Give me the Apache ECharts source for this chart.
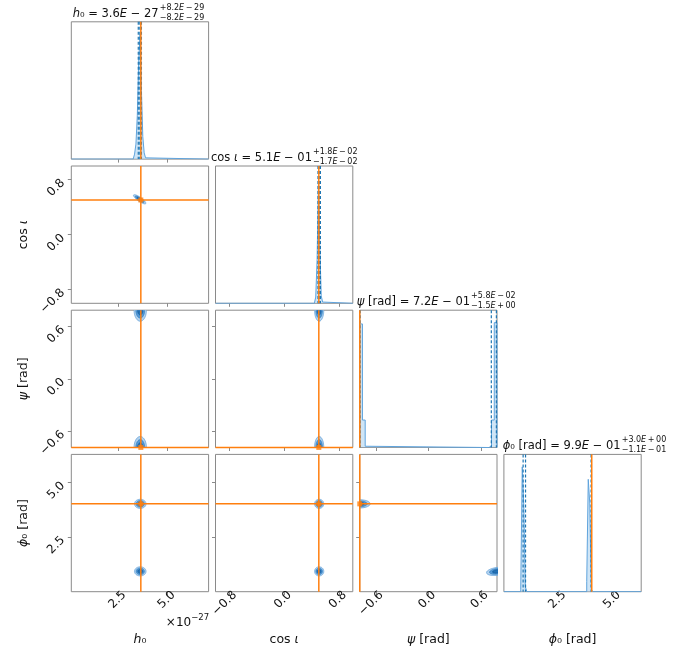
<!DOCTYPE html>
<html><head><meta charset="utf-8">
<script src="https://cdn.jsdelivr.net/npm/echarts@6/dist/echarts.min.js"></script>
<style>html,body{margin:0;padding:0;background:#fff}#c{width:694px;height:652px}</style>
</head><body><div id="c"></div>
<script>
// ---------------- data ----------------
const paramNames = ['h0', 'cosi', 'psi', 'phi0'];
const axisMin = [0.09, -1.0, -0.785, 0.0];
const axisMax = [7.08, 1.0, 0.785, 6.283];
const tickValues = [[2.5, 5.0], [-0.8, 0.0, 0.8], [-0.6, 0.0, 0.6], [2.5, 5.0]];
const truths = [3.63, 0.505, -0.784, 4.02];
const medians = [3.58, 0.51, 0.72, 0.99];
const qLow = [3.50, 0.493, -0.78, 0.88];
const qHigh = [3.66, 0.528, 0.778, 3.99];

// 1D histograms (bin left edge, normalised height)
const h0BinWidth = 0.07;
const h0BinLeft = [3.24, 3.31, 3.38, 3.45, 3.52, 3.59, 3.66, 3.73, 3.80, 3.87];
const h0BinHeight = [0.01, 0.04, 0.12, 0.35, 0.78, 1.0, 0.55, 0.18, 0.05, 0.01];

const cosiBinWidth = 0.02;
const cosiBinLeft = [0.44, 0.46, 0.48, 0.50, 0.52, 0.54, 0.56];
const cosiBinHeight = [0.01, 0.05, 0.35, 1.0, 0.45, 0.06, 0.01];

const psiBinWidth = 0.0314;
const psiBinLeft = [-0.785, -0.7536, -0.7222, 0.6908, 0.7222, 0.7536];
const psiBinHeight = [0.99, 0.22, 0.01, 0.01, 0.22, 1.0];

const phiBinWidth = 0.07;
const phiBinLeft = [0.77, 0.84, 0.91, 0.98, 3.79, 3.86, 3.93, 4.00];
const phiBinHeight = [0.02, 1.0, 0.69, 0.04, 0.08, 0.90, 0.71, 0.02];

// 2D posterior blobs: [centre x, centre y, sigma x, sigma y, correlation]
const blobsCosiH0 = [[3.57, 0.515, 0.15, 0.032, -0.85]];
const blobsPsiH0 = [[3.60, 0.785, 0.15, 0.06, 0.0], [3.60, -0.785, 0.15, 0.06, 0.0]];
const blobsPsiCosi = [[0.51, 0.785, 0.032, 0.06, 0.0], [0.51, -0.785, 0.032, 0.06, 0.0]];
const blobsPhiH0 = [[3.60, 4.02, 0.14, 0.10, 0.0], [3.60, 0.93, 0.14, 0.10, 0.0]];
const blobsPhiCosi = [[0.51, 4.02, 0.032, 0.10, 0.0], [0.51, 0.93, 0.032, 0.10, 0.0]];
const blobsPhiPsi = [[-0.785, 4.02, 0.057, 0.09, 0.0], [0.785, 0.93, 0.057, 0.09, 0.3]];

// ---------------- layout & style ----------------
const FONT = 'DejaVu Sans';
const L0 = 71.3, T0 = 21.8, STEP = 144.2, W = 137.3;
const BORDER = '#8a8a8a';
const TEXT = '#111';
const BLUE = '#1f77b4', ORANGE = '#ff7f0e';
const levels = [2.1, 1.5, 0.9];
const levelFill = ['#b3d2ee', '#5499d6', '#2471b5'];
const levelStroke = ['#5c9ed8', '#2f7fc2', '#1a5f9e'];
const refLineStyles = [
  {stroke: BLUE, lineWidth: 1.2, lineDash: [3, 2]},
  {stroke: ORANGE, lineWidth: 1.5}
];

const hists = [
  {w: h0BinWidth, left: h0BinLeft, h: h0BinHeight},
  {w: cosiBinWidth, left: cosiBinLeft, h: cosiBinHeight},
  {w: psiBinWidth, left: psiBinLeft, h: psiBinHeight},
  {w: phiBinWidth, left: phiBinLeft, h: phiBinHeight}
];
const blobs = {
  '1,0': blobsCosiH0, '2,0': blobsPsiH0, '2,1': blobsPsiCosi,
  '3,0': blobsPhiH0, '3,1': blobsPhiCosi, '3,2': blobsPhiPsi
};

function fmt(v) {
  const s = Math.abs(v) < 1e-9 ? '0.0' : v.toFixed(1);
  return s.replace('-', '\u2212');
}

function stepData(hist, j) {
  const pts = [[axisMin[j], 0]];
  const n = hist.left.length;
  for (let k = 0; k < n; k++) {
    const x0 = hist.left[k], x1 = x0 + hist.w;
    const prevContig = k > 0 && Math.abs(hist.left[k - 1] + hist.w - x0) < 1e-6;
    const nextContig = k < n - 1 && Math.abs(x1 - hist.left[k + 1]) < 1e-6;
    if (!prevContig) pts.push([x0, 0]);
    pts.push([x0, hist.h[k]], [x1, hist.h[k]]);
    if (!nextContig) pts.push([x1, 0]);
  }
  pts.push([axisMax[j], 0]);
  return pts;
}

// reference lines (quantiles / truths): [value, 0=vertical 1=horizontal, style index, other coord]
function refLineSeries(gi, data) {
  return {
    type: 'custom', xAxisIndex: gi, yAxisIndex: gi, clip: false, z: 4, silent: true, data: data,
    renderItem: function (params, api) {
      const cs = params.coordSys;
      const v = api.value(0), horiz = api.value(1) === 1, st = refLineStyles[api.value(2)];
      let shape;
      if (horiz) {
        const y = api.coord([api.value(3), v])[1];
        shape = {x1: cs.x, y1: y, x2: cs.x + cs.width, y2: y};
      } else {
        const x = api.coord([v, api.value(3)])[0];
        shape = {x1: x, y1: cs.y, x2: x, y2: cs.y + cs.height};
      }
      return {type: 'line', shape: shape, style: st};
    }
  };
}

const grids = [], xAxes = [], yAxes = [], series = [];
let g = 0;
for (let i = 0; i < 4; i++) {
  for (let j = 0; j <= i; j++) {
    grids.push({
      left: L0 + STEP * j, top: T0 + STEP * i, width: W, height: W,
      show: true, borderColor: BORDER, borderWidth: 1, backgroundColor: 'transparent',
      containLabel: false, outerBoundsMode: 'none'
    });
    xAxes.push({
      type: 'value', gridIndex: g, min: axisMin[j], max: axisMax[j], position: 'bottom',
      splitLine: {show: false},
      axisLine: {show: false, onZero: false},
      axisTick: {show: true, customValues: tickValues[j], length: 3.5, lineStyle: {color: BORDER, width: 1}},
      axisLabel: {show: i === 3, customValues: tickValues[j], rotate: 45, margin: 7,
        padding: [6, -7.9, 0, 0],
        fontSize: 12, fontFamily: FONT, color: TEXT, formatter: fmt}
    });
    if (i === j) {
      const mx = Math.max.apply(null, hists[j].h) * 1.1;
      yAxes.push({type: 'value', gridIndex: g, min: 0, max: mx, show: false,
        axisLine: {onZero: false}, splitLine: {show: false}});
      series.push({
        type: 'line', xAxisIndex: g, yAxisIndex: g, data: stepData(hists[j], j),
        symbol: 'none', lineStyle: {color: '#5fa3dc', width: 1}, silent: true,
        areaStyle: {color: '#a8cfee', opacity: 0.55}, z: 2
      });
      series.push(refLineSeries(g, [
        [qLow[j], 0, 0, 0], [medians[j], 0, 0, 0], [qHigh[j], 0, 0, 0], [truths[j], 0, 1, 0]
      ]));
    } else {
      yAxes.push({
        type: 'value', gridIndex: g, min: axisMin[i], max: axisMax[i], position: 'left',
        splitLine: {show: false},
        axisLine: {show: false, onZero: false},
        axisTick: {show: true, customValues: tickValues[i], length: 3.5, lineStyle: {color: BORDER, width: 1}},
        axisLabel: {show: j === 0, customValues: tickValues[i], rotate: 45, margin: 7,
          padding: [5, 2, 0, 0],
          fontSize: 12, fontFamily: FONT, color: TEXT, formatter: fmt}
      });
      series.push({
        type: 'custom', xAxisIndex: g, yAxisIndex: g, clip: true, z: 3, silent: true,
        data: blobs[i + ',' + j],
        renderItem: function (params, api) {
          const cx = api.value(0), cy = api.value(1), sx = api.value(2), sy = api.value(3), rho = api.value(4);
          const rr = Math.sqrt(1 - rho * rho);
          const children = [];
          levels.forEach(function (k, li) {
            const pts = [];
            for (let t = 0; t < 60; t++) {
              const a = 2 * Math.PI * t / 60, u = Math.cos(a), v = Math.sin(a);
              pts.push(api.coord([cx + k * sx * u, cy + k * sy * (rho * u + rr * v)]));
            }
            children.push({type: 'polygon', shape: {points: pts},
              style: {fill: levelFill[li], stroke: levelStroke[li], lineWidth: 0.7}});
          });
          return {type: 'group', children: children};
        }
      });
      series.push(refLineSeries(g, [
        [truths[j], 0, 1, truths[i]], [truths[i], 1, 1, truths[j]]
      ]));
      series.push({
        type: 'scatter', xAxisIndex: g, yAxisIndex: g, data: [[truths[j], truths[i]]],
        symbol: 'rect', symbolSize: 5, itemStyle: {color: ORANGE}, z: 5, silent: true
      });
    }
    g++;
  }
}

// ---------------- math-like text ----------------
const mctx = document.createElement('canvas').getContext('2d');
function tw(t, size, it) { mctx.font = (it ? 'italic ' : '') + size + 'px "' + FONT + '"'; return mctx.measureText(t).width; }
function txt(t, x, y, size, it) {
  return {type: 'text', x: x, y: y, silent: true,
    style: {text: t, fontSize: size, fontFamily: FONT, fontStyle: it ? 'italic' : 'normal', fill: TEXT,
      align: 'left', verticalAlign: 'middle', textAlign: 'left', textVerticalAlign: 'middle'}};
}
function run(segs, x, y, size, out) {
  let cx = x;
  segs.forEach(function (s) { out.push(txt(s[0], cx, y, size, s[1])); cx += tw(s[0], size, s[1]); });
  return cx - x;
}
function runWidth(segs, size) { return segs.reduce((a, s) => a + tw(s[0], size, s[1]), 0); }

const TS = '\u2009';
const titleMain = [
  [['h', true], ['\u2080', false], [' = 3.6', false], ['E', true], [' \u2212 27', false]],
  [['cos ', false], ['\u03b9', true], [' = 5.1', false], ['E', true], [' \u2212 01', false]],
  [['\u03c8', true], [' [rad] = 7.2', false], ['E', true], [' \u2212 01', false]],
  [['\u03d5', true], ['\u2080', false], [' [rad] = 9.9', false], ['E', true], [' \u2212 01', false]]
];
const titleSup = [
  [['+8.2', false], ['E', true], [TS + '\u2212' + TS + '29', false]],
  [['+1.8', false], ['E', true], [TS + '\u2212' + TS + '02', false]],
  [['+5.8', false], ['E', true], [TS + '\u2212' + TS + '02', false]],
  [['+3.0', false], ['E', true], [TS + '+' + TS + '00', false]]
];
const titleSub = [
  [['\u22128.2', false], ['E', true], [TS + '\u2212' + TS + '29', false]],
  [['\u22121.7', false], ['E', true], [TS + '\u2212' + TS + '02', false]],
  [['\u22121.5', false], ['E', true], [TS + '+' + TS + '00', false]],
  [['\u22121.1', false], ['E', true], [TS + '\u2212' + TS + '01', false]]
];
const titleStartX = [72.7, 211, 356.7, 502.7];
const axisLabels = [
  [['h', true], ['\u2080', false]],
  [['cos ', false], ['\u03b9', true]],
  [['\u03c8', true], [' [rad]', false]],
  [['\u03d5', true], ['\u2080', false], [' [rad]', false]]
];

const gfx = [];
for (let k = 0; k < 4; k++) {
  const y = T0 + STEP * k - 8;
  const wMain = run(titleMain[k], titleStartX[k], y, 11.5, gfx);
  const sx = titleStartX[k] + wMain + 1;
  run(titleSup[k], sx, y - 6, 8, gfx);
  run(titleSub[k], sx, y + 4, 8, gfx);
  const cxn = L0 + STEP * k + W / 2;
  const wl = runWidth(axisLabels[k], 12.5);
  run(axisLabels[k], cxn - wl / 2, 640, 12.5, gfx);
}
for (let k = 1; k < 4; k++) {
  const cy = T0 + STEP * k + W / 2;
  const wl = runWidth(axisLabels[k], 12.5);
  const kids = [];
  run(axisLabels[k], -wl / 2, 0, 12.5, kids);
  gfx.push({type: 'group', x: 24, y: cy, rotation: Math.PI / 2, children: kids});
}
{
  const w1 = tw('\u00d710', 12, false), w2 = tw('\u221227', 8.5, false);
  const xr = L0 + W + 0.5;
  gfx.push(txt('\u00d710', xr - w1 - w2, 622.5, 12, false));
  gfx.push(txt('\u221227', xr - w2, 617.5, 8.5, false));
}

const chart = echarts.init(document.getElementById('c'), null, {renderer: 'canvas'});
chart.setOption({
  animation: false,
  backgroundColor: '#fff',
  grid: grids, xAxis: xAxes, yAxis: yAxes, series: series,
  graphic: {elements: gfx}
});
</script>
</body></html>
